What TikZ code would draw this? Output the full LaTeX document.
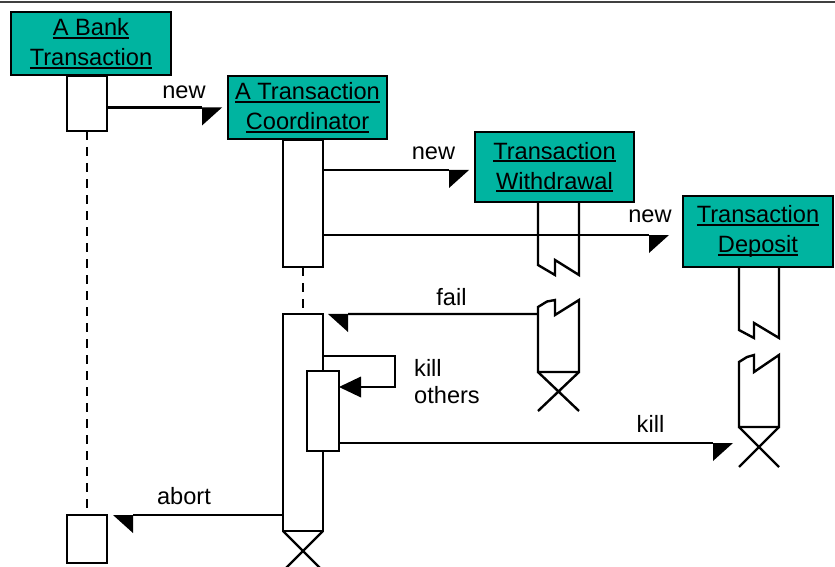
\documentclass[tikz,border=0pt]{standalone}
\usepackage{fontspec}
\setmainfont{Liberation Sans}
\usetikzlibrary{arrows.meta}
\definecolor{headfill}{RGB}{0,180,160}
% underline at a fixed depth below the baseline
\newcommand\ulword[1]{\setbox0\hbox{#1}\rlap{\rule[-3bp]{\wd0}{1.8bp}}\box0}
\newcommand\headfont{\fontsize{23.6bp}{30bp}\selectfont}
\newcommand\msgfont{\fontsize{23.6bp}{26.5bp}\selectfont}
\begin{document}
\begin{tikzpicture}[x=1bp,y=-1bp, line width=2.4bp, line join=miter,
  headbox/.style={draw, fill=headfill, line width=2.8bp, align=center,
    inner sep=0pt, outer sep=0pt, font=\headfont},
  actbox/.style={draw, fill=white, inner sep=0pt, outer sep=0pt, minimum width=40bp},
  lifeline/.style={line width=2.6bp, dash pattern=on 9bp off 7bp},
  halfR/.style={-{Triangle[length=20bp,width=36bp,harpoon,swap,line width=0pt]}},
  halfL/.style={-{Triangle[length=20bp,width=36bp,harpoon,line width=0pt]}},
  fullL/.style={-{Triangle[length=22bp,width=21bp,line width=0pt]}},
  msg/.style={font=\msgfont, inner sep=0pt, anchor=base}
]
\useasboundingbox (0,0) rectangle (835,567);
\begin{scope}
\clip (0,0) rectangle (835,567);

% rule along the top edge
\draw[line width=2bp, black!75] (0,2.5) -- (835,2.5);

% object heads
\node[headbox, minimum width=160bp, minimum height=63bp] (bank) at (91,43.5)
  {\ulword{A Bank}\\\ulword{Transaction}};
\node[headbox, minimum width=159bp, minimum height=63bp] (coord) at (307.5,107.5)
  {\ulword{A Transaction}\\\ulword{Coordinator}};
\node[headbox, minimum width=159bp, minimum height=70bp] (wdraw) at (554.5,167)
  {\ulword{Transaction}\\\ulword{Withdrawal}};
\node[headbox, minimum width=150bp, minimum height=71bp] (depo) at (758,231.5)
  {\ulword{Transaction}\\\ulword{Deposit}};

% activations of the bank transaction
\node[actbox, minimum height=55bp] (bankAct) at (87,103.5) {};
\node[actbox, minimum height=48bp] (bankEnd) at (87,539) {};
\draw[lifeline] (bankAct.south) -- (bankEnd.north);

% activations of the coordinator
\node[actbox, minimum height=127bp] (coordAct) at (303,203.5) {};
\node[actbox, minimum height=217bp] (coordAct2) at (303,422.5) {};
\draw[lifeline] (coordAct.south) -- (coordAct2.north);
\node[actbox, minimum width=32bp, minimum height=80bp] (nestAct) at (323,411) {};
\draw (coordAct2.south west) -- ++(40,40) (coordAct2.south east) -- ++(-40,40);

% withdrawal lifeline, broken
\draw (538,203) -- (538,265) -- (555,275) -- (555,260) -- (579,275) -- (579,203);
\draw (538,372) -- (538,307) -- (547,301.5) -- (555,300) -- (555,315) -- (579,300)
  -- (579,372) -- cycle;
\draw (538,372) -- (579,411) (579,372) -- (538,411);

% deposit lifeline, broken
\draw (739,268) -- (739,330) -- (754,338) -- (754,323) -- (779,338) -- (779,268);
\draw (739,427) -- (739,362) -- (747,357) -- (754,355) -- (754,372) -- (779,355)
  -- (779,427) -- cycle;
\draw (739,427) -- (779,467) (779,427) -- (739,467);

% messages
\coordinate (tipNew2) at (469,170);
\coordinate (tipNew3) at (669,235);
\coordinate (wdFail) at (538,314);
\coordinate (selfTurn) at (395,356);
\coordinate (tipKill) at (733,443);

\draw[halfR] (bankAct.east |- coord.west) -- ([xshift=-6bp]coord.west);
\draw[halfR] (coordAct.east |- tipNew2) -- (tipNew2);
\draw[halfR] (coordAct.east |- tipNew3) -- (tipNew3);
\draw[halfL] (wdFail) -- ([xshift=5bp]coordAct2.north east);
\draw[fullL] (coordAct2.east |- selfTurn) -- (selfTurn) |- ([yshift=24bp]nestAct.east);
\draw[halfR] (nestAct.east |- tipKill) -- (tipKill);
\draw[halfL] (coordAct2.west |- bankEnd.north) -- ([xshift=6bp]bankEnd.north east);

% message labels
\node[msg] (lNew1) at (184,99) {new};
\node[msg] (lNew2) at (433.5,160) {new};
\node[msg] (lNew3) at (650,223) {new};
\node[msg] (lFail) at (451.5,305) {fail};
\node[msg, anchor=base west, align=left] (lKillOthers) at (413,403) {kill\\others};
\node[msg] (lKill) at (650.5,432) {kill};
\node[msg] (lAbort) at (184,504) {abort};
\end{scope}
\end{tikzpicture}
\end{document}
